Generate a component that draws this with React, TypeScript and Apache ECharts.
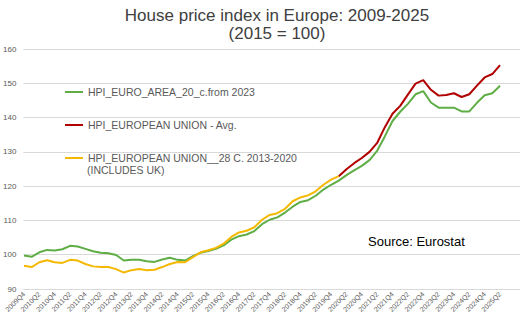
import React, { useEffect, useRef } from "react";
import * as echarts from "echarts";

// Quarter labels on the category axis
const quarters = [
  "2009Q4",
  "2010Q1", "2010Q2", "2010Q3", "2010Q4",
  "2011Q1", "2011Q2", "2011Q3", "2011Q4",
  "2012Q1", "2012Q2", "2012Q3", "2012Q4",
  "2013Q1", "2013Q2", "2013Q3", "2013Q4",
  "2014Q1", "2014Q2", "2014Q3", "2014Q4",
  "2015Q1", "2015Q2", "2015Q3", "2015Q4",
  "2016Q1", "2016Q2", "2016Q3", "2016Q4",
  "2017Q1", "2017Q2", "2017Q3", "2017Q4",
  "2018Q1", "2018Q2", "2018Q3", "2018Q4",
  "2019Q1", "2019Q2", "2019Q3", "2019Q4",
  "2020Q1", "2020Q2", "2020Q3", "2020Q4",
  "2021Q1", "2021Q2", "2021Q3", "2021Q4",
  "2022Q1", "2022Q2", "2022Q3", "2022Q4",
  "2023Q1", "2023Q2", "2023Q3", "2023Q4",
  "2024Q1", "2024Q2", "2024Q3", "2024Q4",
  "2025Q1", "2025Q2",
];

// Euro area (20 countries), 2009Q4 .. 2025Q2
const euroArea20 = [
  99.8, 99.4, 100.7, 101.4, 101.2, 101.6, 102.6, 102.4, 101.7, 101.0,
  100.6, 100.4, 99.9, 98.3, 98.5, 98.5, 98.1, 97.9, 98.6, 99.1,
  98.5, 98.3, 99.6, 100.6, 101.1, 101.7, 102.7, 104.4, 105.4, 105.9,
  106.9, 108.9, 110.2, 110.9, 112.3, 114.0, 115.4, 115.9, 117.2, 119.0,
  120.4, 121.6, 123.2, 124.6, 125.9, 127.6, 130.3, 134.5, 139.0, 141.7,
  144.0, 146.8, 147.7, 144.4, 142.9, 142.9, 142.9, 141.8, 141.8, 144.3,
  146.5, 147.1, 149.3,
];

// European Union average, 2020Q1 .. 2025Q2
const euAvgStart = "2020Q1";
const euAvg = [
  122.9, 124.9, 126.7, 128.2, 130.0, 132.6, 137.2, 141.1, 143.4, 146.7,
  149.9, 150.9, 148.1, 146.4, 146.6, 147.1, 146.0, 146.8, 149.3, 151.7,
  152.7, 155.3,
];

// EU 28 countries incl. UK, 2009Q4 .. 2020Q1
const eu28 = [
  96.8, 96.4, 97.8, 98.4, 97.8, 97.6, 98.5, 98.3, 97.3, 96.6,
  96.4, 96.4, 95.8, 94.8, 95.5, 95.8, 95.5, 95.6, 96.4, 97.3,
  97.9, 97.8, 99.3, 100.7, 101.3, 102.0, 103.2, 105.2, 106.5, 107.0,
  108.0, 110.2, 111.6, 112.1, 113.4, 115.6, 116.7, 117.3, 118.5, 120.4,
  121.9, 122.9,
];

const yTicks = { min: 90, max: 160, step: 10 };

const names = {
  ea: "HPI_EURO_AREA_20_c.from 2023",
  eu: "HPI_EUROPEAN UNION - Avg.",
  eu28: "HPI_EUROPEAN UNION__28 C. 2013-2020",
};

const GREEN = "#5FAE45";
const RED = "#B00000";
const YELLOW = "#F5B800";
const TEXT = "#595959";
const FONT = "Liberation Sans, Arial, sans-serif";

export default function App() {
  const ref = useRef<HTMLDivElement>(null);

  useEffect(() => {
    document.body.style.margin = "0";
    if (!ref.current) return;
    const chart = echarts.init(ref.current, undefined, { renderer: "svg" });

    const startIdx = quarters.indexOf(euAvgStart);
    const euFull = quarters.map((_, i) =>
      i >= startIdx ? euAvg[i - startIdx] : null
    );
    const eu28Full = quarters.map((_, i) => (i < eu28.length ? eu28[i] : null));

    const lineSeries = (name: string, data: (number | null)[], color: string) => ({
      name,
      type: "line",
      xAxisIndex: 1,
      yAxisIndex: 1,
      data,
      symbol: "none",
      connectNulls: false,
      lineStyle: { color, width: 2 },
      itemStyle: { color },
    });

    chart.setOption({
      animation: false,
      backgroundColor: "#ffffff",
      title: {
        text: "House price index in Europe: 2009-2025\n(2015 = 100)",
        left: 272,
        top: 1,
        textAlign: "center",
        textStyle: {
          fontFamily: FONT,
          fontSize: 17,
          fontWeight: "normal",
          lineHeight: 18,
          color: "#404040",
        },
      },
      legend: {
        orient: "vertical",
        left: 65,
        top: 86,
        padding: 0,
        itemWidth: 18,
        itemHeight: 2,
        itemGap: 21,
        icon: "rect",
        data: [names.ea, names.eu, names.eu28],
        textStyle: {
          fontFamily: FONT,
          fontSize: 10.5,
          color: TEXT,
          lineHeight: 12,
        },
      },
      graphic: [
        {
          type: "text",
          left: 87,
          top: 164,
          style: {
            text: "(INCLUDES UK)",
            fontFamily: FONT,
            fontSize: 10.5,
            fill: TEXT,
          },
        },
        {
          type: "text",
          left: 368,
          top: 235,
          style: {
            text: "Source: Eurostat",
            fontFamily: FONT,
            fontSize: 13,
            fill: "#000000",
          },
        },
      ],
      grid: [
        { left: 20, right: 0, top: 49, bottom: 29 },
        { left: 24, right: 20, top: 49, bottom: 29 },
      ],
      xAxis: [
        { gridIndex: 0, type: "value", min: 0, max: 1, show: false },
        {
          gridIndex: 1,
          type: "category",
          data: quarters,
          boundaryGap: false,
          axisLine: { show: false },
          axisTick: { show: false },
          splitLine: { show: false },
          axisLabel: {
            interval: 1,
            rotate: 45,
            margin: 4,
            fontSize: 7,
            color: TEXT,
            fontFamily: FONT,
          },
        },
      ],
      yAxis: [
        {
          gridIndex: 0,
          type: "value",
          min: yTicks.min,
          max: yTicks.max,
          interval: yTicks.step,
          axisLine: { show: false },
          axisTick: { show: false },
          splitLine: { show: true, lineStyle: { color: "#D9D9D9", width: 1 } },
          axisLabel: {
            margin: 7,
            fontSize: 8,
            color: TEXT,
            fontFamily: FONT,
          },
        },
        {
          gridIndex: 1,
          type: "value",
          min: yTicks.min,
          max: yTicks.max,
          interval: yTicks.step,
          show: false,
          splitLine: { show: false },
        },
      ],
      series: [
        lineSeries(names.ea, euroArea20, GREEN),
        lineSeries(names.eu, euFull, RED),
        lineSeries(names.eu28, eu28Full, YELLOW),
      ],
    });

    return () => chart.dispose();
  }, []);

  return <div ref={ref} style={{ width: 520, height: 318 }} />;
}
